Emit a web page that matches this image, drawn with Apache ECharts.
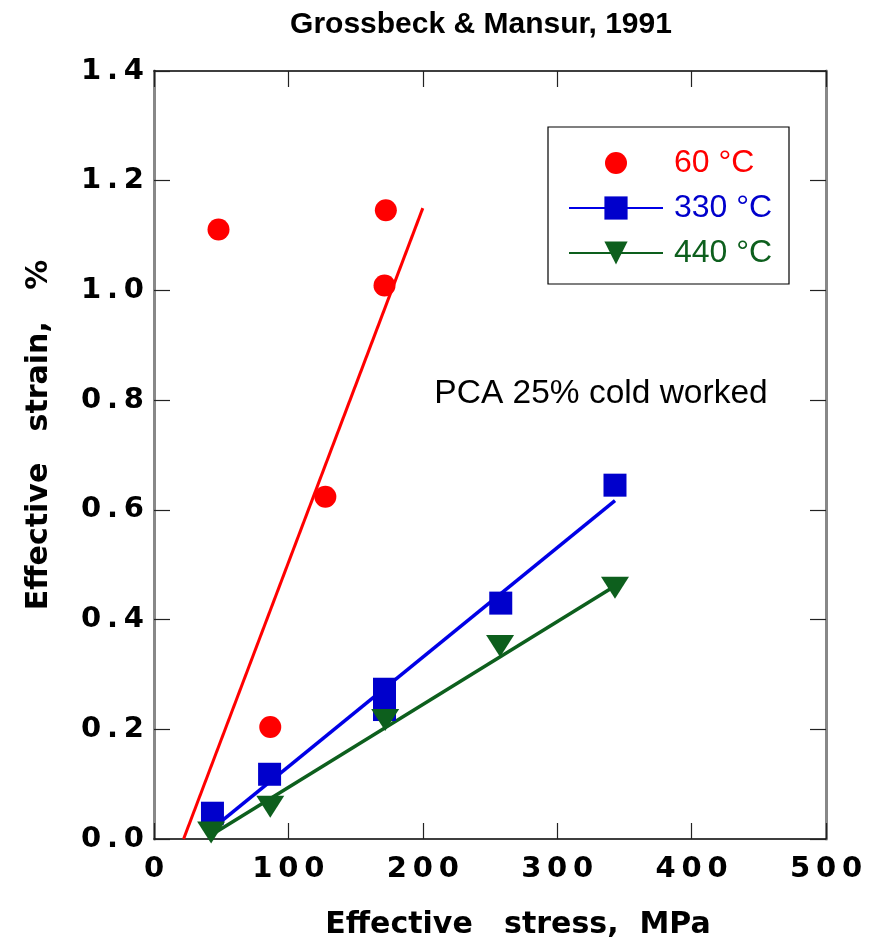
<!DOCTYPE html>
<html>
<head>
<meta charset="utf-8">
<title>Grossbeck & Mansur, 1991</title>
<script src="https://cdn.jsdelivr.net/npm/echarts@6/dist/echarts.min.js"></script>
<style>
  html, body { margin: 0; padding: 0; background: #ffffff; }
  #chart { width: 876px; height: 945px; }
</style>
</head>
<body>
<div id="chart"></div>
<script>
// Measured points: effective stress (MPa) vs effective strain (%)
const stress60 = [48, 86.5, 127.5, 171.5, 172.5];
const strain60 = [1.111, 0.204, 0.624, 1.009, 1.146];

const stress330 = [43.5, 86, 171.5, 171.5, 258, 343];
const strain330 = [0.047, 0.118, 0.273, 0.236, 0.430, 0.645];

const stress440 = [42.5, 86.5, 172, 257.5, 343];
const strain440 = [0.012, 0.059, 0.217, 0.352, 0.458];

// Linear fit lines (end points)
const fitStress60 = [22, 200];
const fitStrain60 = [0, 1.15];
const fitStress330 = [45, 343];
const fitStrain330 = [0.022, 0.617];
const fitStress440 = [45, 343];
const fitStrain440 = [0.011, 0.461];

// Legend labels and axis ticks
const seriesNames = ['60 °C', '330 °C', '440 °C'];
const xTicks = [0, 100, 200, 300, 400, 500];
const yTicks = [0, 0.2, 0.4, 0.6, 0.8, 1.0, 1.2, 1.4];

const RED = '#ff0000';
const BLUE_LINE = '#0000e6';
const BLUE = '#0000cc';
const GREEN = '#0d5f1d';

const pairs = (xs, ys) => xs.map((x, i) => [x, ys[i]]);
const spaced = s => s.split('').join('\u2009');

const tickFont = {
  fontFamily: 'DejaVu Sans',
  fontWeight: 'bold',
  fontSize: 29,
  color: '#000'
};

const xStep = xTicks[1] - xTicks[0];
const yStep = +(yTicks[1] - yTicks[0]).toFixed(2);

const commonX = {
  type: 'value',
  min: xTicks[0],
  max: xTicks[xTicks.length - 1],
  interval: xStep,
  splitLine: { show: false },
  axisTick: { show: true, inside: true, length: 16, lineStyle: { color: '#222', width: 1.2 } }
};
const commonY = {
  type: 'value',
  min: yTicks[0],
  max: yTicks[yTicks.length - 1],
  interval: yStep,
  splitLine: { show: false },
  axisTick: { show: true, inside: true, length: 16, lineStyle: { color: '#222', width: 1.2 } }
};

const chart = echarts.init(document.getElementById('chart'), null, { renderer: 'canvas' });

chart.setOption({
  animation: false,
  backgroundColor: '#ffffff',
  title: {
    text: 'Grossbeck & Mansur, 1991',
    left: 476,
    textAlign: 'center',
    top: 5,
    textStyle: {
      fontFamily: 'Liberation Sans',
      fontWeight: 'bold',
      fontSize: 30,
      color: '#000'
    }
  },
  grid: { left: 154, right: 50, top: 71, bottom: 105, containLabel: false },
  xAxis: [
    Object.assign({}, commonX, {
      position: 'bottom',
      name: 'Effective   stress,  MPa',
      nameLocation: 'middle',
      nameGap: 71,
      nameTextStyle: {
        fontFamily: 'DejaVu Sans', fontWeight: 'bold', fontSize: 30, color: '#000',
        padding: [0, 0, 0, 56]
      },
      axisLine: { show: true, onZero: false, lineStyle: { color: '#000', width: 1.5 } },
      axisLabel: Object.assign({}, tickFont, {
        margin: 16,
        formatter: v => spaced(String(v))
      })
    }),
    Object.assign({}, commonX, {
      position: 'top',
      axisLine: { show: true, onZero: false, lineStyle: { color: '#000', width: 1.5 } },
      axisLabel: { show: false }
    })
  ],
  yAxis: [
    Object.assign({}, commonY, {
      position: 'left',
      name: 'Effective   strain,   %',
      nameLocation: 'middle',
      nameGap: 100,
      nameRotate: 90,
      nameTextStyle: {
        fontFamily: 'DejaVu Sans', fontWeight: 'bold', fontSize: 30, color: '#000',
        padding: [0, 0, 0, 40]
      },
      axisLine: { show: true, onZero: false, lineStyle: { color: '#888', width: 3 } },
      axisLabel: Object.assign({}, tickFont, {
        margin: 10,
        formatter: v => spaced(v.toFixed(1))
      })
    }),
    Object.assign({}, commonY, {
      position: 'right',
      axisLine: { show: true, onZero: false, lineStyle: { color: '#888', width: 3 } },
      axisLabel: { show: false }
    })
  ],
  legend: [
    {
      data: [{ name: seriesNames[0], icon: 'circle' }],
      orient: 'vertical',
      left: 605,
      top: 147,
      padding: 0,
      itemWidth: 94,
      itemHeight: 22,
      selectedMode: false,
      textStyle: { fontFamily: 'Liberation Sans', fontSize: 32, color: RED, padding: [0, 0, 0, 6] }
    },
    {
      data: [
        { name: seriesNames[1], textStyle: { color: BLUE } },
        { name: seriesNames[2], textStyle: { color: GREEN } }
      ],
      orient: 'vertical',
      left: 568,
      top: 192,
      padding: 0,
      itemWidth: 94,
      itemHeight: 29,
      itemGap: 13,
      selectedMode: false,
      textStyle: { fontFamily: 'Liberation Sans', fontSize: 32, padding: [0, 0, 0, 6] }
    }
  ],
  graphic: [
    {
      type: 'rect',
      shape: { x: 548, y: 127, width: 241, height: 157 },
      style: { fill: 'none', stroke: '#000', lineWidth: 1.2 },
      z: 10
    },
    {
      type: 'text',
      x: 601,
      y: 394,
      style: {
        text: 'PCA 25% cold worked',
        fontFamily: 'Liberation Sans',
        fontSize: 33.5,
        fill: '#000',
        align: 'center',
        verticalAlign: 'middle'
      },
      z: 10
    }
  ],
  series: [
    {
      name: seriesNames[0],
      type: 'scatter',
      data: pairs(stress60, strain60),
      symbol: 'circle',
      symbolSize: 22,
      itemStyle: { color: RED, opacity: 1 },
      z: 4,
      emphasis: { disabled: true }
    },
    {
      name: seriesNames[0],
      type: 'line',
      data: pairs(fitStress60, fitStrain60),
      showSymbol: false,
      lineStyle: { color: RED, width: 3 },
      itemStyle: { color: RED },
      z: 3,
      emphasis: { disabled: true }
    },
    {
      name: seriesNames[1],
      type: 'line',
      data: pairs(fitStress330, fitStrain330),
      symbol: 'rect',
      symbolSize: 23,
      showSymbol: false,
      lineStyle: { color: BLUE_LINE, width: 3.5 },
      itemStyle: { color: BLUE },
      z: 3,
      emphasis: { disabled: true }
    },
    {
      name: seriesNames[1],
      type: 'scatter',
      data: pairs(stress330, strain330),
      symbol: 'rect',
      symbolSize: 23,
      itemStyle: { color: BLUE, opacity: 1 },
      z: 4,
      emphasis: { disabled: true }
    },
    {
      name: seriesNames[2],
      type: 'line',
      data: pairs(fitStress440, fitStrain440),
      symbol: 'triangle',
      symbolRotate: 180,
      symbolSize: 23,
      showSymbol: false,
      lineStyle: { color: GREEN, width: 3.5 },
      itemStyle: { color: GREEN },
      z: 3,
      emphasis: { disabled: true }
    },
    {
      name: seriesNames[2],
      type: 'scatter',
      data: pairs(stress440, strain440),
      symbol: 'triangle',
      symbolRotate: 180,
      symbolSize: [28, 22],
      itemStyle: { color: GREEN, opacity: 1 },
      z: 5,
      emphasis: { disabled: true }
    }
  ]
});
</script>
</body>
</html>
